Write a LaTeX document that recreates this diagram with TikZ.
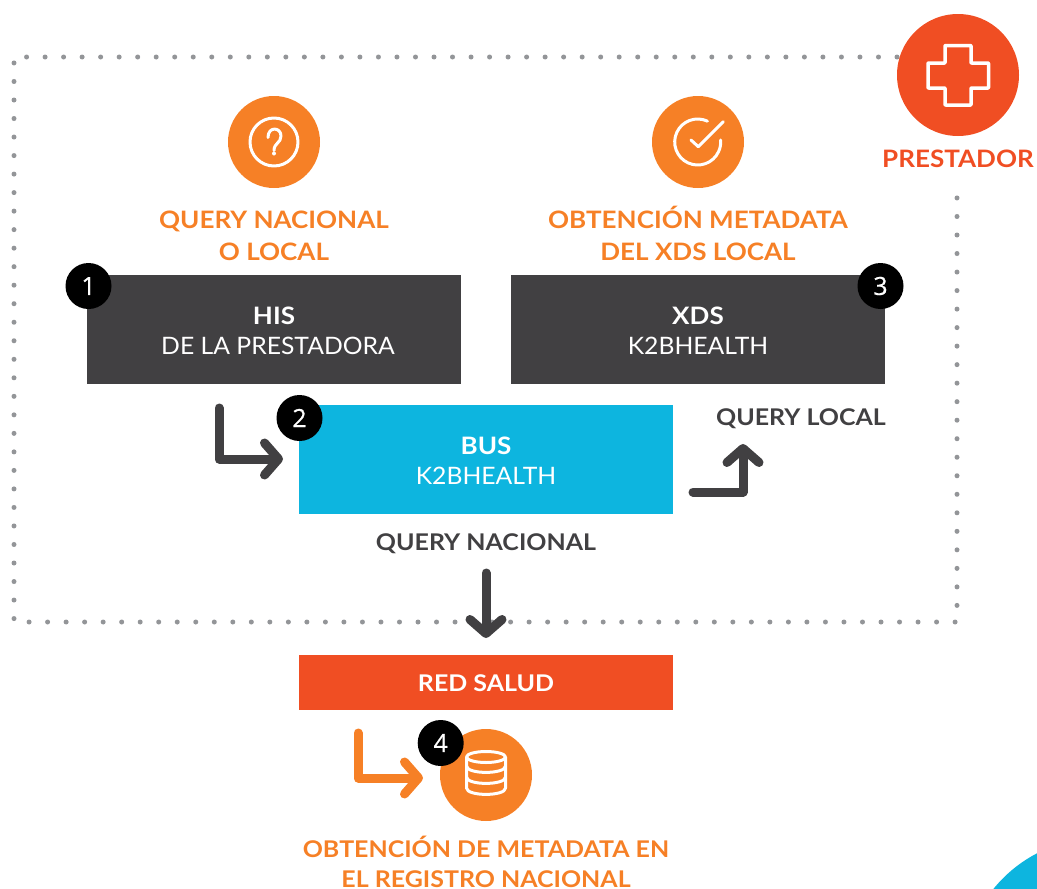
\documentclass[tikz,border=0pt]{standalone}
\usepackage{fontspec}
\usetikzlibrary{arrows.meta}
\setmainfont{Lato}
\newfontfamily\lbold[FakeStretch=1.085]{Lato Bold}
\newfontfamily\lreg[FakeStretch=1.03]{Lato}
\newfontfamily\lnum[FakeBold=0.6]{Open Sans}
\definecolor{orangeA}{HTML}{F68026}
\definecolor{redA}{HTML}{F04E23}
\definecolor{darkA}{HTML}{414042}
\definecolor{cyanA}{HTML}{0DB5DF}
\definecolor{dotA}{HTML}{939598}
\tikzset{
  panel/.style={anchor=north west,inner sep=0,outer sep=0,minimum width=374pt,text width=0pt},
  disc/.style={circle,inner sep=0,outer sep=0,minimum size=92pt,fill=orangeA},
  badge/.style={circle,inner sep=0,outer sep=0,minimum size=46pt,fill=black,text=white,font=\lnum\fontsize{25}{25}\selectfont},
  tb/.style={anchor=base,inner sep=0,font=\lbold\fontsize{24}{24}\selectfont},
  tbs/.style={anchor=base,inner sep=0,font=\lbold\fontsize{23}{23}\selectfont},
  tr/.style={anchor=base,inner sep=0,font=\lreg\fontsize{24}{24}\selectfont},
  elbow/.style={line width=9pt,line cap=round,line join=round,-{Straight Barb[length=14pt,width=32pt,round]}},
  icon/.style={draw=white,line width=3pt,line cap=round,line join=round},
  dotted border/.style={draw=dotA,line width=5pt,line cap=round,dash pattern=on 0pt off 18.52pt}
}
\begin{document}
\begin{tikzpicture}[x=1pt,y=-1pt]
\useasboundingbox (0,0) rectangle (1037,889);
% corner disc
\begin{scope}
\clip (0,0) rectangle (1037,889);
\fill[cyanA] (1100,975) circle[radius=137pt];
\end{scope}
% dotted frame
\draw[dotted border] (897,57) -- (14,57) -- (14,622) -- (957,622) -- (957,186);
% panels
\node[panel,minimum height=109pt,fill=darkA] (his) at (87,275) {};
\node[panel,minimum height=109pt,fill=darkA] (xds) at (511,275) {};
\node[panel,minimum height=109pt,fill=cyanA] (bus) at (299,405) {};
\node[panel,minimum height=55pt,fill=redA] (red) at (299,655) {};
% panel text
\node[tb,text=white] (hisA) at (274,324) {HIS};
\node[tr,text=white] (hisB) at (278,354) {DE LA PRESTADORA};
\node[tb,text=white] (xdsA) at (698,324) {XDS};
\node[tr,text=white] (xdsB) at (698,354) {K2BHEALTH};
\node[tb,text=white] (busA) at (486,454) {BUS};
\node[tr,text=white] (busB) at (486,484) {K2BHEALTH};
\node[tbs,text=white] (redA) at (486,691) {RED SALUD};
% discs
\node[disc] (q) at (274,142) {};
\node[disc] (c) at (698,142) {};
\node[disc] (db) at (486,775) {};
\node[circle,inner sep=0,minimum size=122pt,fill=redA] (pr) at (958,75) {};
% question icon
\draw[icon] (q) circle[radius=24pt];
\draw[icon] (268,137.5) .. controls (268,126) and (281,127) .. (281,136) .. controls (281,143) and (274,143) .. (274,150.5);
\fill[white] (274,153.5) circle[radius=2pt];
% check icon
\draw[icon] (697.7,142) ++(-65:23) arc[start angle=-65,end angle=-365,radius=23];
\draw[icon] (691,140) -- (698.3,146.7) -- (723.3,121.7);
% cross icon
\draw[icon,line width=3.5pt,rounded corners=0.5pt] (945,45.5) -- (971,45.5) -- (971,63) -- (988.5,63) -- (988.5,88) -- (971,88) -- (971,105) -- (945,105) -- (945,88) -- (928,88) -- (928,63) -- (945,63) -- cycle;
% database icon
\draw[icon] (486,757) ellipse[x radius=19.5,y radius=5.5];
\draw[icon] (466.5,757) -- (466.5,788) .. controls (466.5,796.5) and (505.5,796.5) .. (505.5,788) -- (505.5,757);
\draw[icon] (466.5,766) .. controls (466.5,774.5) and (505.5,774.5) .. (505.5,766);
\draw[icon] (466.5,777) .. controls (466.5,785.5) and (505.5,785.5) .. (505.5,777);
% badges
\node[badge] (b1) at (88.5,286) {1};
\node[badge] (b2) at (299.5,418) {2};
\node[badge] (b3) at (880.5,286) {3};
\node[badge] (b4) at (440.7,743) {4};
% arrows
\coordinate (a1s) at (219,408); \coordinate (a1c) at (219,459); \coordinate (a1e) at (283,459);
\coordinate (a2s) at (693,492); \coordinate (a2c) at (743,492); \coordinate (a2e) at (743,444);
\coordinate (a3s) at (486,573); \coordinate (a3e) at (486,638);
\coordinate (a4s) at (358,733); \coordinate (a4c) at (358,778); \coordinate (a4e) at (423,778);
\draw[elbow,darkA] (a1s) -- (a1c) -- (a1e);
\draw[elbow,darkA] (a2s) -- (a2c) -- (a2e);
\draw[elbow,darkA] (a3s) -- (a3e);
\draw[elbow,orangeA] (a4s) -- (a4c) -- (a4e);
% labels
\node[tb,text=orangeA] (t1) at (274,228) {QUERY NACIONAL};
\node[tb,text=orangeA] (t2) at (274,260) {O LOCAL};
\node[tb,text=orangeA] (t3) at (698,228) {OBTENCIÓN METADATA};
\node[tb,text=orangeA] (t4) at (698,260) {DEL XDS LOCAL};
\node[tbs,text=darkA] (t5) at (801,425.5) {QUERY LOCAL};
\node[tbs,text=darkA] (t6) at (486,550.5) {QUERY NACIONAL};
\node[tbs,text=orangeA] (t7) at (486,857.5) {OBTENCIÓN DE METADATA EN};
\node[tbs,text=orangeA] (t8) at (486,887.5) {EL REGISTRO NACIONAL};
\node[tb,text=redA] (t9) at (958,167) {PRESTADOR};
\end{tikzpicture}
\end{document}
